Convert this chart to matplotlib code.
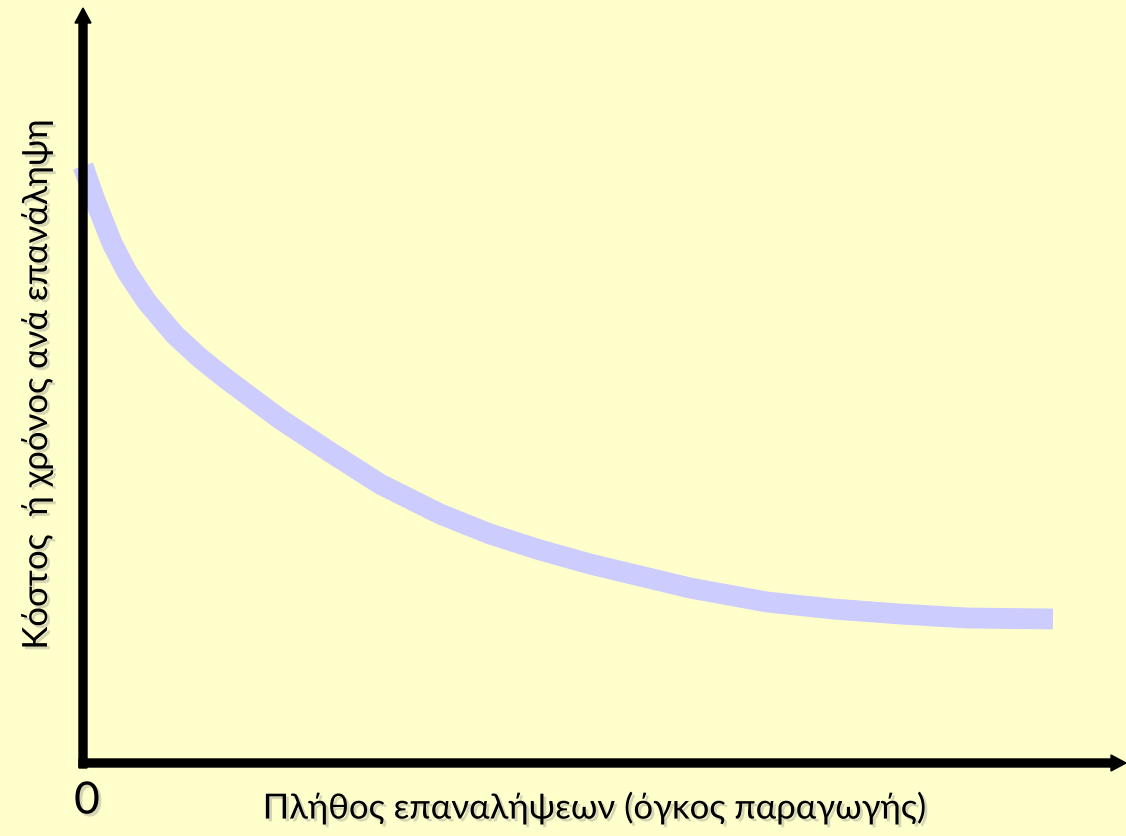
import matplotlib
matplotlib.use("Agg")
import matplotlib.pyplot as plt
import matplotlib.patheffects as pe

# Καμπύλη μάθησης: κόστος ανά επανάληψη σε σχέση με το πλήθος επαναλήψεων
volume = [0.0, 1.2, 2.9, 4.4, 6.4, 9.2, 11.7, 14.2, 19.7, 24.7, 29.7, 35.7, 40.7,
          45.7, 50.7, 55.7, 60.7, 68.4, 75.0, 81.7, 88.4, 97.0]
cost = [59.7, 56.3, 52.0, 49.1, 46.1, 42.8, 40.5, 38.5, 34.4, 31.1, 27.9, 24.9, 22.9,
        21.3, 19.9, 18.7, 17.5, 16.1, 15.4, 14.9, 14.5, 14.4]

x_label = "Πλήθος επαναλήψεων (όγκος παραγωγής)"
y_label = "Κόστος  ή χρόνος ανά επανάληψη"
origin_label = "0"

BG = "#FFFFCC"
CURVE = "#CCCCFF"
FONT = ["Lato", "DejaVu Sans"]

fig = plt.figure(figsize=(11.26, 8.36), dpi=100, facecolor=BG)
ax = fig.add_axes([0, 0, 1, 1])
ax.set_facecolor(BG)
ax.set_xlim(-8.3, 104.3)
ax.set_ylim(-7.3, 76.3)
ax.axis("off")

ax.plot(volume, cost, color=CURVE, lw=15, solid_capstyle="butt", solid_joinstyle="round", zorder=1)

# άξονες με βέλη
ax.arrow(0, -0.5, 0, 76.0, width=0.8, head_width=1.6, head_length=1.5,
         length_includes_head=True, color="black", zorder=2)
ax.arrow(-0.4, 0, 104.7, 0, width=0.8, head_width=1.6, head_length=1.5,
         length_includes_head=True, color="black", zorder=2)

shadow = [pe.SimplePatchShadow(offset=(2, -2), shadow_rgbFace="#888888", alpha=0.35), pe.Normal()]

ax.text(0.4, -3.8, origin_label, fontsize=32, family=FONT, ha="center", va="center",
        path_effects=shadow)
ax.text(51.2, -4.5, x_label, fontsize=25, family=FONT, ha="center", va="center",
        path_effects=shadow)
ax.text(-4.6, 37.9, y_label, fontsize=25, family=FONT, ha="center", va="center",
        rotation=90, path_effects=shadow)

fig.savefig("out.png", dpi=100, facecolor=BG)
